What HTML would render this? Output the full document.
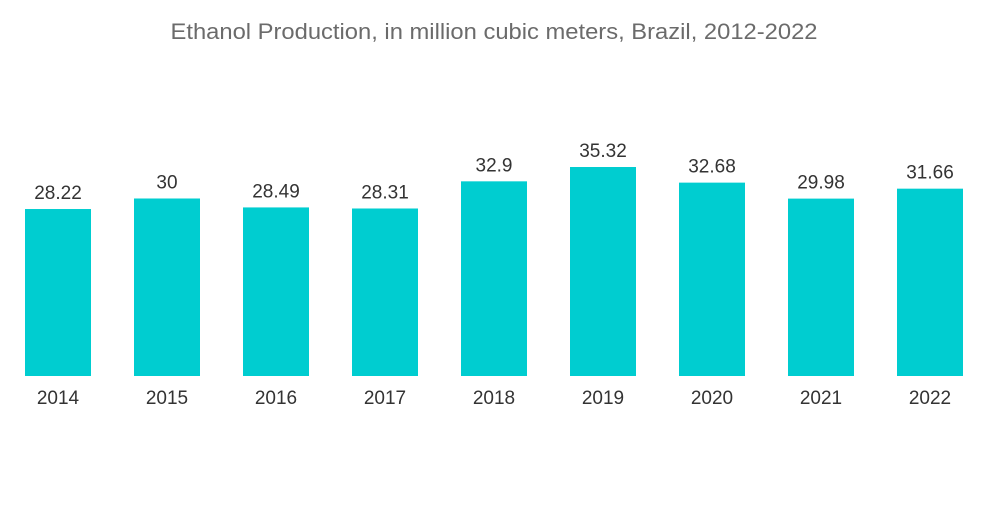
<!DOCTYPE html>
<html><head><meta charset="utf-8"><style>
body{margin:0;background:#fff;width:1000px;height:504px;overflow:hidden;font-family:"Liberation Sans",sans-serif}
</style></head><body>
<svg id="chart" width="1000" height="504" xmlns="http://www.w3.org/2000/svg">
<text x="494" y="39" text-anchor="middle" font-size="22" textLength="647" lengthAdjust="spacingAndGlyphs" fill="#6b6b6b" font-family="Liberation Sans, sans-serif">Ethanol Production, in million cubic meters, Brazil, 2012-2022</text>
<g id="bars"></g>
</svg>
<script>
const categories=["2014","2015","2016","2017","2018","2019","2020","2021","2022"];
const values=[28.22,30,28.49,28.31,32.9,35.32,32.68,29.98,31.66];
const valueLabels=["28.22","30","28.49","28.31","32.9","35.32","32.68","29.98","31.66"];
const ns="http://www.w3.org/2000/svg";
const baseY=376,scale=5.917,x0=3.5,band=109,bw=66;
const xPos=i=>x0+band*i+band/2;
const yPos=v=>baseY-v*scale;
const g=document.getElementById('bars');
categories.forEach((c,i)=>{
 const r=document.createElementNS(ns,'rect');
 
 
 r.setAttribute('x',xPos(i)-bw/2);r.setAttribute('y',yPos(values[i]));
 r.setAttribute('width',bw);r.setAttribute('height',baseY-yPos(values[i]));
 r.setAttribute('fill','#00cdd0');g.appendChild(r);
 const t=document.createElementNS(ns,'text');
 
 
 t.setAttribute('x',xPos(i));t.setAttribute('y',yPos(values[i])-10);
 t.setAttribute('text-anchor','middle');t.setAttribute('font-size','19');t.setAttribute('fill','#333');
 t.textContent=valueLabels[i];g.appendChild(t);
 const l=document.createElementNS(ns,'text');
 
 
 l.setAttribute('x',xPos(i));l.setAttribute('y',404);
 l.setAttribute('text-anchor','middle');l.setAttribute('font-size','19');l.setAttribute('fill','#333');
 l.textContent=c;g.appendChild(l);
});
</script>
</body></html>
